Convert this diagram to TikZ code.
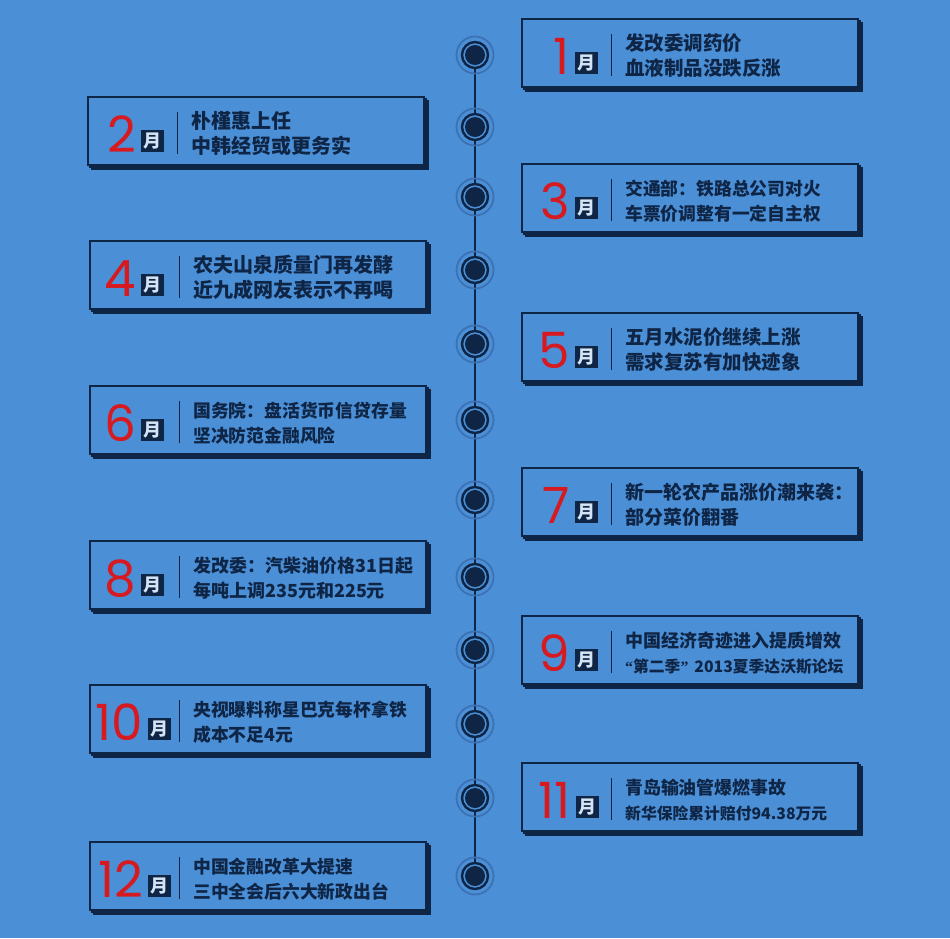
\documentclass[tikz,border=0pt]{standalone}
\usepackage{fontspec}
\newfontfamily\cjk{Noto Sans CJK SC}
\newfontfamily\numfont{Poppins}
\newfontfamily\quotefont{Liberation Serif}
\usetikzlibrary{calc}
\definecolor{bg}{HTML}{4B8FD6}
\definecolor{navy}{HTML}{0F2545}
\definecolor{redn}{HTML}{D71920}
\definecolor{halocol}{HTML}{3C72B3}
\definecolor{glyph}{HTML}{D4E4F5}
\tikzset{
 evframe/.style={draw=navy, line width=1.3pt, fill=bg, minimum width=336pt, minimum height=68pt, anchor=north west, inner sep=0pt, outer sep=0pt},
 monthsq/.style={fill=navy, text=glyph, minimum width=23pt, minimum height=22pt, inner sep=0pt, anchor=north west, font=\cjk\bfseries\fontsize{18}{18}\selectfont},
 digit/.style={text=redn, inner sep=0pt, anchor=base east, font=\numfont\fontsize{50}{50}\selectfont},
 evtext/.style={text=navy, inner sep=0pt, anchor=base west},
 sepline/.style={draw=navy, line width=1pt},
 tline/.style={draw=navy, line width=2pt},
 halodot/.style={circle, draw=halocol, line width=1.8pt, minimum size=37pt, inner sep=0pt},
 ringdot/.style={circle, draw=navy, fill=bg, line width=2.4pt, minimum size=26pt, inner sep=0pt},
 coredot/.style={circle, fill=navy, minimum size=20pt, inner sep=0pt},
}
% #1 id, #2 left, #3 top, #4 digits, #5 square offset, #6 font size, #7 line1, #8 line2
\newcommand{\evbox}[8]{%
 \node[evframe] (b#1c) at (#2+4,#3+4) {};
 \node[evframe] (b#1b) at (#2+2,#3+2) {};
 \node[evframe] (b#1) at (#2,#3) {};
 \node[monthsq] (m#1) at (#2+#5,#3+33) {月};
 \node[digit] (d#1) at (#2+#5-5,#3+55) {#4};
 \coordinate (s#1a) at (#2+89,#3+15);
 \coordinate (s#1b) at (#2+89,#3+57);
 \draw[sepline] (s#1a) -- (s#1b);
 \node[evtext,font=\cjk\bfseries\fontsize{#6}{#6}\selectfont] (t#1a) at (#2+103,#3+31) {#7};
 \node[evtext,font=\cjk\bfseries\fontsize{#6}{#6}\selectfont] (t#1b) at (#2+103,#3+56.5) {#8};
}
\begin{document}
\begin{tikzpicture}[x=1pt,y=-1pt]
\fill[bg] (0,0) rectangle (950,938);
\useasboundingbox (0,0) rectangle (950,938);
% timeline
\foreach \i/\yy in {1/55,2/127,3/197,4/270,5/344,6/420,7/500,8/577,9/650,10/724,11/798,12/876}{
  \coordinate (p\i) at (475,\yy);
}
\draw[tline] (p1) -- (p12);
\foreach \i in {1,...,12}{
  \node[halodot] (h\i) at (p\i) {};
  \node[ringdot] (r\i) at (p\i) {};
  \node[coredot] (k\i) at (p\i) {};
}
% events
\evbox{1}{522}{19}{1}{53}{19.5}{发改委调药价}{血液制品没跌反涨}
\evbox{2}{88}{97}{2}{53}{20}{朴槿惠上任}{中韩经贸或更务实}
\evbox{3}{522}{164}{3}{53}{17.8}{交通部：铁路总公司对火}{车票价调整有一定自主权}
\evbox{4}{90}{241}{4}{51}{20}{农夫山泉质量门再发酵}{近九成网友表示不再喝}
\evbox{5}{522}{313}{5}{53}{19.5}{五月水泥价继续上涨}{需求复苏有加快迹象}
\evbox{6}{90}{386}{6}{51}{17.8}{国务院：盘活货币信贷存量}{坚决防范金融风险}
\evbox{7}{522}{468}{7}{53}{19}{新一轮农产品涨价潮来袭：}{部分菜价翻番}
\evbox{8}{90}{541}{8}{51}{18}{发改委：汽柴油价格31日起}{每吨上调235元和225元}
\evbox{9}{522}{616}{9}{53}{18}{中国经济奇迹进入提质增效}{\fontsize{15.8}{16}\selectfont{\quotefont\bfseries “}第二季{\quotefont\bfseries ”}\hspace{6pt}2013夏季达沃斯论坛}
\evbox{10}{90}{685}{10}{58}{17.8}{央视曝料称星巴克每杯拿铁}{成本不足4元}
\evbox{11}{522}{763}{11}{54}{17.9}{青岛输油管爆燃事故}{\fontsize{15.8}{16}\selectfont 新华保险累计赔付94.38万元}
\evbox{12}{90}{842}{12}{58}{17.8}{中国金融改革大提速}{三中全会后六大新政出台}
\end{tikzpicture}
\end{document}
